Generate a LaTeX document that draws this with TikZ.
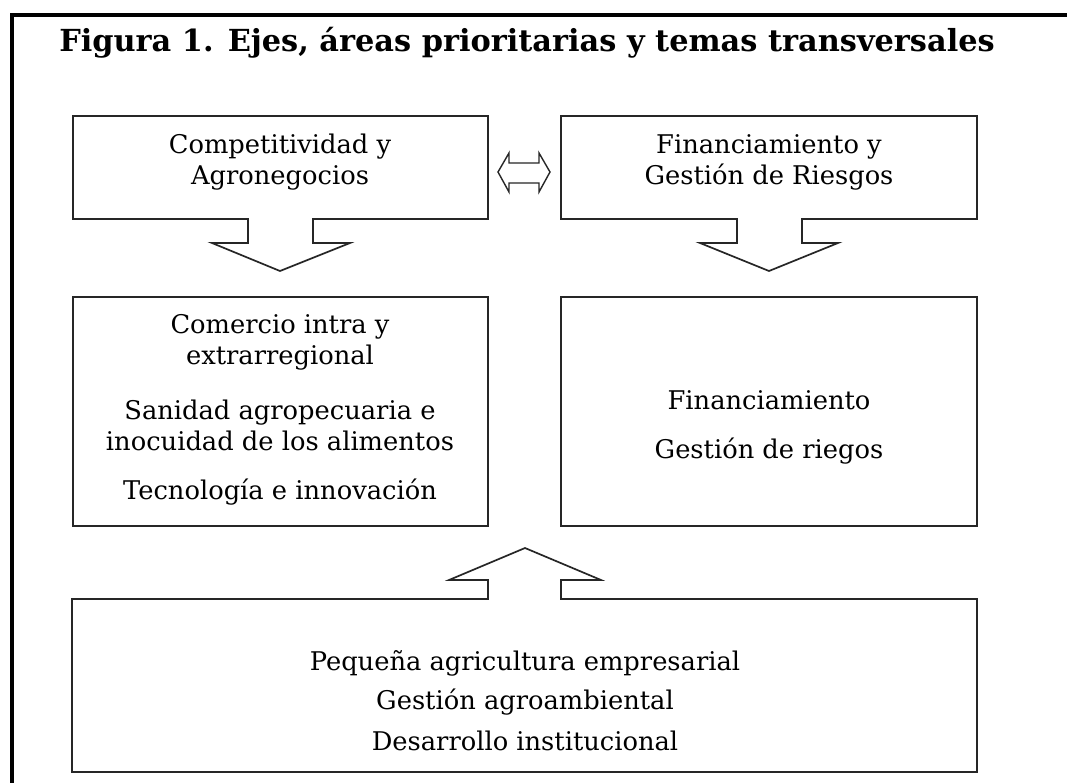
\documentclass[tikz,border=0pt]{standalone}
\usepackage{fontspec}
\setmainfont{DejaVu Serif}
\begin{document}
\begin{tikzpicture}[x=0.025cm, y=-0.025cm,
    caja/.style={line width=1.2pt, draw=black!85, line join=miter},
    texto/.style={align=center, inner sep=0pt, font=\fontsize{18.3}{22}\selectfont},
    titulo/.style={inner sep=0pt, font=\fontsize{21.6}{24}\selectfont\bfseries}]

    % Marco
    \useasboundingbox (0,0) rectangle (1067,783);
    \fill[white] (0,0) rectangle (1067,783);
    \draw[line width=3pt] (12,783) -- (12,15) -- (1067,15);

    % Titulo
    \node[titulo] (tit) at (527,43) {Figura 1. Ejes, áreas prioritarias y temas transversales};

    % Ejes (con sus flechas)
    \draw[caja] (313,219) -- (488,219) -- (488,116) -- (73,116) -- (73,219) -- (248,219)
        -- (248,243) -- (212,243) -- (280,271) -- (350,243) -- (313,243) -- cycle;
    \draw[caja] (802,219) -- (977,219) -- (977,116) -- (561,116) -- (561,219) -- (737,219)
        -- (737,243) -- (700,243) -- (769,271) -- (838,243) -- (802,243) -- cycle;
    \node[texto] (comp) at (280,162) {Competitividad y\\Agronegocios};
    \node[texto] (fin) at (769,162) {Financiamiento y\\Gestión de Riesgos};

    % Doble flecha
    \draw[line width=1pt, draw=black!85] (498,172) -- (509,153) -- (509,163) -- (539,163) -- (539,153)
        -- (550,172) -- (539,192) -- (539,183) -- (509,183) -- (509,192) -- cycle;

    % Areas prioritarias
    \draw[caja] (73,297) rectangle (488,526);
    \draw[caja] (561,297) rectangle (977,526);
    \node[texto] (com) at (280,342) {Comercio intra y\\extrarregional};
    \node[texto] (san) at (280,425) {Sanidad agropecuaria e\\inocuidad de los alimentos};
    \node[texto] (tec) at (280,492) {Tecnología e innovación};
    \node[texto] (fina) at (769,400) {Financiamiento};
    \node[texto] (ries) at (769,451) {Gestión de riegos};

    % Temas transversales
    \draw[caja] (561,599) -- (977,599) -- (977,772) -- (72,772) -- (72,599) -- (488,599)
        -- (488,580) -- (449,580) -- (525,548) -- (601,580) -- (561,580) -- cycle;
    \node[texto] (peq) at (525,663) {Pequeña agricultura empresarial};
    \node[texto] (amb) at (525,702) {Gestión agroambiental};
    \node[texto] (ins) at (525,741) {Desarrollo institucional};
\end{tikzpicture}
\end{document}
